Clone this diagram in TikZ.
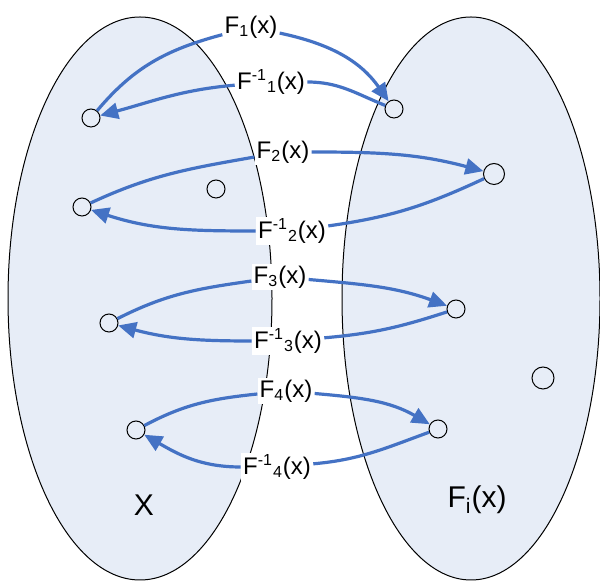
\documentclass[tikz,border=0pt]{standalone}
\usepackage{fontspec}
\setmainfont{Liberation Sans}
\usepackage{xcolor}
\usetikzlibrary{arrows.meta}
\definecolor{setfill}{RGB}{231,237,247}
\definecolor{mapblue}{RGB}{68,114,196}

\begin{document}
\begin{tikzpicture}[
    x=0.5pt, y=0.5pt,
    elem/.style={circle, draw, inner sep=0pt, minimum size=9pt, line width=0.5pt},
    lbl/.style={fill=white, inner sep=1pt, font=\fontsize{12}{14}\selectfont},
    setname/.style={font=\fontsize{15}{18}\selectfont},
    map/.style={draw=mapblue, line width=1.6pt, -{Triangle[length=9pt,width=8pt]}}
]

\useasboundingbox (0,0) rectangle (600,-581);

% the two sets
\filldraw[fill=setfill, line width=0.5pt] (140,-298.5) ellipse (132 and 281.5);
\filldraw[fill=setfill, line width=0.5pt] (471,-298.5) ellipse (129 and 281.5);

\node[setname] (X) at (144,-505) {X};
\node[setname] (Y) at (477,-500) {F\textsubscript{i}(x)};

% labels
\node[lbl] (f1) at (251,-27) {F\textsubscript{1}(x)};
\node[lbl] (g1) at (271,-82) {F\textsuperscript{-1}\textsubscript{1}(x)};
\node[lbl] (f2) at (283,-152) {F\textsubscript{2}(x)};
\node[lbl] (g2) at (292,-231) {F\textsuperscript{-1}\textsubscript{2}(x)};
\node[lbl] (f3) at (280,-277) {F\textsubscript{3}(x)};
\node[lbl] (g3) at (288,-341) {F\textsuperscript{-1}\textsubscript{3}(x)};
\node[lbl] (f4) at (286,-391) {F\textsubscript{4}(x)};
\node[lbl] (g4) at (277,-467) {F\textsuperscript{-1}\textsubscript{4}(x)};

% elements of X
\node[elem] (l1) at (91,-118) {};
\node[elem] (l2) at (82,-207) {};
\node[elem] (l3) at (109,-323) {};
\node[elem] (l4) at (136,-430) {};
\node[elem] (l5) at (216,-189) {};

% elements of F_i(x)
\node[elem] (r1) at (394,-109) {};
\node[elem, minimum size=10.5pt] (r2) at (494,-174) {};
\node[elem] (r3) at (456,-309) {};
\node[elem] (r4) at (438,-429) {};
\node[elem, minimum size=11pt] (r5) at (543,-378) {};

% maps and inverses
\draw[map] (l1) to[out=50,in=195] (f1) to[out=-12,in=125] (r1);
\draw[map] (r1) to[out=158,in=0] (g1) to[out=185,in=15] (l1);

\draw[map] (l2) to[out=25,in=190] (f2) to[out=0,in=165] (r2);
\draw[map] (r2) to[out=205,in=8] (g2) to[out=180,in=-18] (l2);

\draw[map] (l3) to[out=27,in=188] (f3) to[out=-5,in=160] (r3);
\draw[map] (r3) to[out=198,in=5] (g3) to[out=180,in=-15] (l3);

\draw[map] (l4) to[out=28,in=186] (f4) to[out=-5,in=150] (r4);
\draw[map] (r4) to[out=200,in=5] (g4) to[out=180,in=-30] (l4);

\end{tikzpicture}
\end{document}
